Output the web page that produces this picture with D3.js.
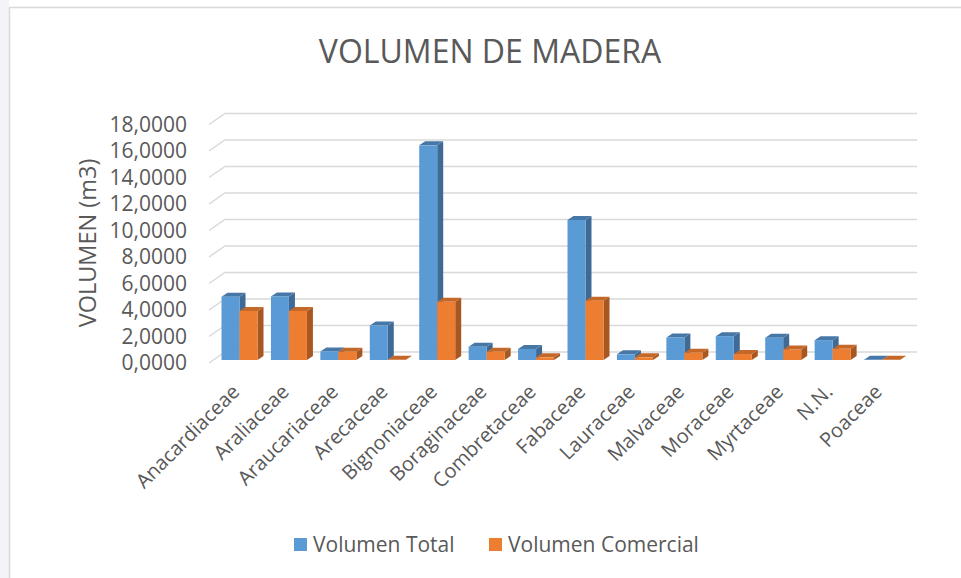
<!DOCTYPE html>
<html>
<head>
<meta charset="utf-8">
<script src="https://cdn.jsdelivr.net/npm/d3@7"></script>
<style>
  html, body { margin: 0; padding: 0; background: #fff; }
  svg { display: block; font-family: "Open Sans", sans-serif; }
</style>
</head>
<body>
<div id="chart"></div>
<script>
// Data
var categories = ['Anacardiaceae', 'Araliaceae', 'Araucariaceae', 'Arecaceae', 'Bignoniaceae',
	'Boraginaceae', 'Combretaceae', 'Fabaceae', 'Lauraceae', 'Malvaceae', 'Moraceae',
	'Myrtaceae', 'N.N.', 'Poaceae'];
var volumenTotal = [4.78, 4.8, 0.65, 2.6, 16.2, 1.0, 0.83, 10.57, 0.43, 1.7, 1.8, 1.68, 1.5, 0.02];
var volumenComercial = [3.7, 3.7, 0.62, 0.02, 4.4, 0.63, 0.2, 4.48, 0.2, 0.55, 0.45, 0.8, 0.85, 0.02];
var seriesNames = ['Volumen Total', 'Volumen Comercial'];
var yTicks = [0, 2, 4, 6, 8, 10, 12, 14, 16, 18];

var fullWidth = 961, fullHeight = 578;

var svg = d3.select('#chart')
	.append('svg')
	.attr('width', fullWidth)
	.attr('height', fullHeight);

// chart frame
svg.append('rect').attr('x', 0).attr('y', 0).attr('width', 9).attr('height', fullHeight).attr('fill', '#f4f4f8');
svg.append('line').attr('x1', 9.5).attr('x2', 9.5).attr('y1', 7).attr('y2', fullHeight)
	.attr('stroke', '#d9d9d9').attr('stroke-width', 1.5);
svg.append('line').attr('x1', 9).attr('x2', fullWidth).attr('y1', 7.5).attr('y2', 7.5)
	.attr('stroke', '#d9d9d9').attr('stroke-width', 1.5);

// 3D geometry
var wallDx = 16, wallDy = -11;   // floor front edge -> back wall
var barDx = 6, barDy = -4;       // bar depth
var baseFront = 360;

var x0 = d3.scaleBand().domain(categories).range([209, 901]);
var x1 = d3.scaleBand().domain(seriesNames).range([0, 36]);
var yScale = d3.scaleLinear().domain([0, 18]).range([baseFront, baseFront - 18 * 13.25]);

var colors = {
	'Volumen Total': { front: '#5b9bd5', top: '#4677a6', side: '#3e6a95' },
	'Volumen Comercial': { front: '#ed7d31', top: '#c4682a', side: '#a85720' }
};

// Gridlines (back wall + floor diagonal)
var grid = svg.append('g');
yTicks.forEach(function(t) {
	var yf = yScale(t) + 3;
	grid.append('polyline')
		.attr('points', [[209, yf], [209 + wallDx, yf + wallDy], [917, yf + wallDy]].join(' '))
		.attr('fill', 'none')
		.attr('stroke', '#d9d9d9')
		.attr('stroke-width', 1.5);
});

// Y axis labels
svg.append('g').selectAll('text')
	.data(yTicks)
	.enter()
	.append('text')
	.attr('x', 187)
	.attr('y', function(d) { return yScale(d) + 3; })
	.attr('dy', '0.35em')
	.attr('text-anchor', 'end')
	.attr('font-size', 21)
	.attr('fill', '#595959')
	.text(function(d) { return d3.format(',.4f')(d).replace('.', ','); });

// Bars
var barData = [];
categories.forEach(function(c, i) {
	barData.push({ cat: c, series: seriesNames[0], value: volumenTotal[i] });
	barData.push({ cat: c, series: seriesNames[1], value: volumenComercial[i] });
});

var bw = x1.bandwidth();
var bars = svg.append('g').selectAll('g')
	.data(barData)
	.enter()
	.append('g');

function bx(d) { return x0(d.cat) + 12.5 + x1(d.series); }

// side face
bars.append('polygon')
	.attr('points', function(d) {
		var x = bx(d) + bw, yt = yScale(d.value), yb = baseFront;
		return [[x, yb], [x, yt], [x + barDx, yt + barDy], [x + barDx, yb + barDy]].join(' ');
	})
	.attr('fill', function(d) { return colors[d.series].side; });

// top face
bars.append('polygon')
	.attr('points', function(d) {
		var x = bx(d), yt = yScale(d.value);
		return [[x, yt], [x + bw, yt], [x + bw + barDx, yt + barDy], [x + barDx, yt + barDy]].join(' ');
	})
	.attr('fill', function(d) { return colors[d.series].top; });

// front face
bars.append('rect')
	.attr('x', bx)
	.attr('y', function(d) { return yScale(d.value); })
	.attr('width', bw)
	.attr('height', function(d) { return baseFront - yScale(d.value); })
	.attr('fill', function(d) { return colors[d.series].front; });

// Category labels
svg.append('g').selectAll('text')
	.data(categories)
	.enter()
	.append('text')
	.attr('transform', function(d) {
		return 'translate(' + (x0(d) + x0.bandwidth() / 2 + 7) + ',' + 393 + ') rotate(-45)';
	})
	.attr('text-anchor', 'end')
	.attr('font-size', 20)
	.attr('fill', '#595959')
	.text(function(d) { return d; });

// Title
svg.append('text')
	.attr('x', 490)
	.attr('y', 63)
	.attr('text-anchor', 'middle')
	.attr('font-size', 32)
	.attr('fill', '#595959')
	.text('VOLUMEN DE MADERA');

// Y axis title
svg.append('text')
	.attr('transform', 'translate(96,243) rotate(-90)')
	.attr('text-anchor', 'middle')
	.attr('font-size', 23.5)
	.attr('fill', '#595959')
	.text('VOLUMEN (m3)');

// Legend
var legend = svg.append('g');
var legendX = [294, 489];
seriesNames.forEach(function(s, i) {
	legend.append('rect')
		.attr('x', legendX[i]).attr('y', 538)
		.attr('width', 13).attr('height', 13)
		.attr('fill', colors[s].front);
	legend.append('text')
		.attr('x', legendX[i] + 19).attr('y', 552)
		.attr('font-size', 21)
		.attr('fill', '#595959')
		.text(s);
});
</script>
</body>
</html>
